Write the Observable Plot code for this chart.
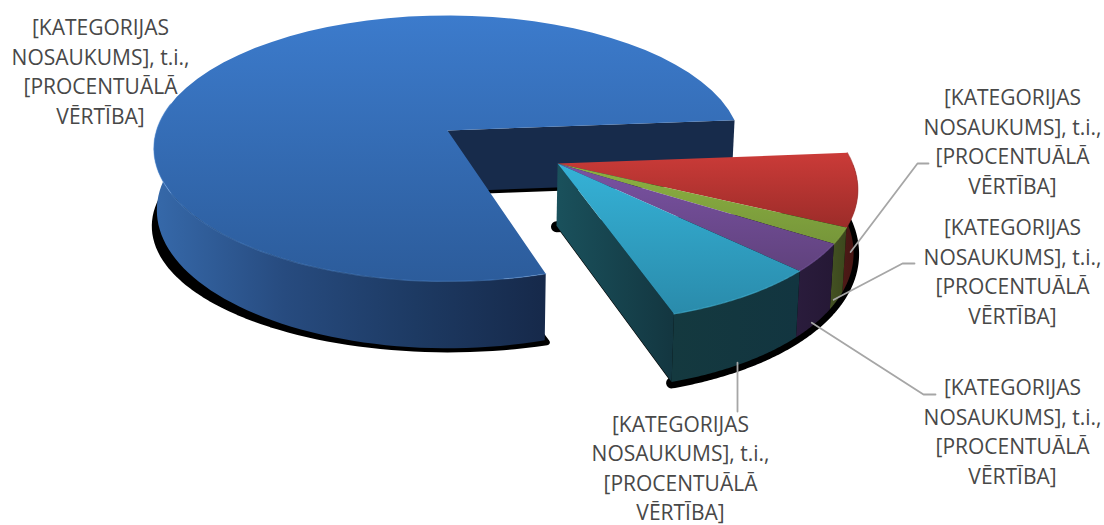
<!DOCTYPE html>
<html><head><meta charset="utf-8">
<style>html,body{margin:0;padding:0;background:#fff}svg{display:block}</style>
<script src="https://cdn.jsdelivr.net/npm/d3@7"></script>
<script src="https://cdn.jsdelivr.net/npm/@observablehq/plot@0.6"></script>
</head><body><script>
// --- chart values (clockwise from the large slice) ---
const categories = ["Liela", "Sarkana", "Zaļa", "Violeta", "Zila"];
const shares = [78.5, 8.5, 1.9, 3.4, 7.7];
const exploded = [0, 1, 1, 1, 1];
const labelText = "[KATEGORIJAS\nNOSAUKUMS], t.i.,\n[PROCENTUĀLĀ\nVĒRTĪBA]";
// --- styles ---
const topColors  = [["#3c7bcc","#2c5c9b"],["#cb3b38","#9c2c29"],["#8db141","#76963a"],["#7a52a3","#60427d"],["#35b2d7","#2a8bab"]];
const wallColors = [["#3669aa","#274b7f","#1d3a63","#16294a"],["#4d1a17","#451512"],["#445223","#3b471c"],["#2a1c3c","#251835"],["#14393f","#123540"]];
const rimColors  = ["#5790d8","#a83230","#8fb048","#7d5aa5","#46b8d8"];
// --- layout ---
const labelX = [100, 1012, 1012, 1012, 680];
const labelY = [71.5, 141.5, 271.5, 431.5, 468];
const leaderElbowX = [917, 902, 923, 737];
const leaderElbowY = [163, 263, 394, 395];
const leaderEndX = [928, 914, 935, 737];
const leaderEndY = [163, 263, 394, 411];
const startAngle = 72.9, k = 0.135;
const topPlane = {x: 447, y: 130, a: 291, b: 130.6};
const basePlane = {x: 447, y: 191, a: 288, b: 135.6};
const shadowPlane = {x: 448, y: 209, a: 291, b: 121};
const explode = {x: 0.366, y: 0.244};
const radius = [1, 0.98];
const project = (p, X, Y) => ({x: p.x + p.a * X / (1 - k * Y), y: p.y + p.b * Y / (1 - k * Y)});
// cumulative angles
let acc = startAngle;
const norm = categories.map((name, i) => {
  const a0 = acc; acc += shares[i] * 3.6;
  const w = i === 0 ? 0 : 360;
  return {name, i, a0: a0 - w, a1: acc - w, mid: (a0 + acc) / 2 - w,
    ox: exploded[i] ? explode.x : 0, oy: exploded[i] ? explode.y : 0, r: radius[exploded[i]]};
});
const rimPt = (s, plane, deg) => {
  const t = deg * Math.PI / 180;
  return project(plane, s.ox + s.r * Math.cos(t), s.oy + s.r * Math.sin(t));
};
const arc = (s, plane, a0, a1) => d3.range(0, 61).map(j => rimPt(s, plane, a0 + (a1 - a0) * j / 60));
const centre = (s, plane) => project(plane, s.ox, s.oy);

const topFace = s => [centre(s, topPlane), ...arc(s, topPlane, s.a0, s.a1)];
const outerWall = s => {
  const from = s.i === 0 ? s.a0 : Math.max(s.a0, 0), to = s.i === 0 ? 192 : s.a1;
  return [...arc(s, topPlane, from, to), ...arc(s, basePlane, from, to).reverse()];
};
const big = norm[0], red = norm[1], blue = norm[4];
const backWall = [centre(big, topPlane), rimPt(big, topPlane, big.a1), rimPt(big, basePlane, big.a1), centre(big, basePlane)];
const sideWall = [centre(blue, topPlane), rimPt(blue, topPlane, blue.a1), rimPt(blue, basePlane, blue.a1), centre(blue, basePlane)];
const leaders = [1, 2, 3, 4].flatMap((idx, n) => {
  const s = norm[idx], p = rimPt(s, basePlane, s.mid);
  return [{n, x: p.x - 3, y: p.y - 1}, {n, x: leaderElbowX[n], y: leaderElbowY[n]}, {n, x: leaderEndX[n], y: leaderEndY[n]}];
});
leaders[9].x = leaderElbowX[3];
const groupBase = [centre(red, basePlane), ...norm.slice(1).flatMap(s => arc(s, basePlane, s.a0, s.a1))];
const bigShadow = [centre(big, shadowPlane), ...arc(big, shadowPlane, big.a0, 188)];
const backShadow = [centre(big, basePlane), rimPt(big, basePlane, big.a1)];

const defs = () => {
  const d = d3.create("svg:defs");
  const grad = (id, stops, horiz) => {
    const g = d.append("linearGradient").attr("id", id).attr("x1", 0).attr("y1", 0).attr("x2", horiz ? 1 : 0).attr("y2", horiz ? 0 : 1);
    stops.forEach((c, i) => g.append("stop").attr("offset", i / (stops.length - 1)).attr("stop-color", c));
  };
  topColors.forEach((c, i) => grad("top" + i, c, false));
  wallColors.forEach((c, i) => grad("wall" + i, c, true));
  grad("side", ["#1a515c", "#133640"], true);
  return d.node();
};
const poly = (pts, fill, extra = {}) => Plot.line(pts, {x: "x", y: "y", fill, stroke: "none", ...extra});
const shadow = (pts, w, dy) => Plot.line(pts, {x: "x", y: "y", fill: "#000", stroke: "#000", strokeWidth: w, dy, strokeLinejoin: "round", imageFilter: "blur(0.6px)"});
const chart = Plot.plot({
  width: 1104, height: 525, margin: 0,
  style: {background: "#fff"},
  x: {domain: [0, 1104], range: [0, 1104], axis: null},
  y: {domain: [0, 525], range: [0, 525], axis: null},
  marks: [
    defs,
    shadow(bigShadow, 6, 0),
    shadow(backShadow, 5, 1),
    shadow(groupBase, 11, 1),
    poly(outerWall(big), "url(#wall0)"),
    poly(backWall, "#172b4b"),
    poly(topFace(big), "url(#top0)"),
    Plot.line(arc(big, topPlane, big.a0, 192), {x: "x", y: "y", stroke: rimColors[0], strokeWidth: 1.2, strokeOpacity: 0.45}),
    poly(sideWall, "url(#side)"),
    ...norm.slice(1).map(s => poly(outerWall(s), `url(#wall${s.i})`)),
    ...norm.slice(1).map(s => poly(topFace(s), `url(#top${s.i})`)),
    ...norm.slice(1).map(s => Plot.line(arc(s, topPlane, s.a0, s.a1), {x: "x", y: "y", stroke: rimColors[s.i], strokeWidth: 1.2, strokeOpacity: 0.6})),
    Plot.line(leaders, {x: "x", y: "y", z: "n", stroke: "#a6a6a6", strokeWidth: 1.8}),
    Plot.text(categories.map((c, i) => ({c, x: labelX[i], y: labelY[i] - 2})), {
      x: "x", y: "y", text: () => labelText, fontFamily: "Open Sans", fontSize: 21, fill: "#484848",
      lineHeight: 1.405, textAnchor: "middle", lineAnchor: "middle"
    })
  ]
});
document.body.appendChild(chart);
</script></body></html>
